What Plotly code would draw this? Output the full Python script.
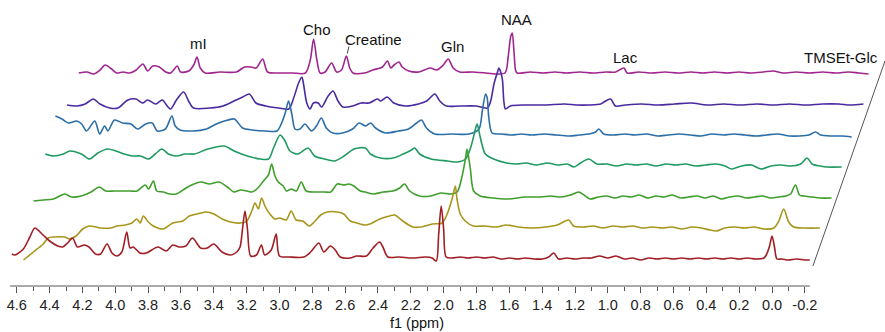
import plotly.graph_objects as go

# ---------------------------------------------------------------------------
# Stacked 1H NMR spectra (front to back).  Each spectrum: chemical shift (ppm)
# and intensity (arbitrary units) at points.
# ---------------------------------------------------------------------------
s1_ppm = [4.63, 4.61, 4.56, 4.52, 4.49, 4.44, 4.40, 4.35, 4.32, 4.29, 4.26, 4.23, 4.19, 4.16,
          4.12, 4.09, 4.05, 4.02, 3.99, 3.96, 3.93, 3.91, 3.89, 3.85, 3.81, 3.74, 3.69, 3.65,
          3.61, 3.57, 3.53, 3.48, 3.44, 3.40, 3.35, 3.30, 3.26, 3.24, 3.225, 3.21, 3.195, 3.175,
          3.14, 3.11, 3.09, 3.05, 3.02, 3.00, 2.94, 2.85, 2.81, 2.76, 2.73, 2.69, 2.66, 2.63,
          2.57, 2.53, 2.47, 2.43, 2.39, 2.37, 2.34, 2.27, 2.19, 2.11, 2.07, 2.045, 2.03, 2.015,
          2.00, 1.985, 1.95, 1.90, 1.85, 1.80, 1.75, 1.70, 1.65, 1.60, 1.55, 1.50, 1.45, 1.40,
          1.36, 1.33, 1.30, 1.25, 1.20, 1.15, 1.10, 1.05, 1.00, 0.95, 0.90, 0.85, 0.80, 0.75,
          0.70, 0.65, 0.60, 0.55, 0.50, 0.45, 0.40, 0.35, 0.30, 0.25, 0.20, 0.15, 0.10, 0.05,
          0.035, 0.015, 0.00, -0.015, -0.03, -0.06, -0.10, -0.15, -0.20, -0.23]
s1_int = [5, 4, 10, 22, 31, 24, 18, 13, 12, 16, 21, 12, 14, 12,
          5, 5, 15, 6, 3, 7, 27, 11, 12, 6, 6, 12, 8, 14,
          12, 13, 21, 11, 11, 15, 7, 4, 7, 12, 30, 48, 30, 3,
          4, 14, 4, 9, 25, 3, 2, 2, 7, 16, 7, 13, 9, 2,
          1, 3, 3, 11, 17, 12, 2, 2, 1, 2, 1, -2, 25, 53,
          30, 2, 1, 2, 1, 2, 1, 2, 0, 1, 0, 1, 0, 0,
          2, 6, 0, 1, 0, 1, 1, 3, 1, 3, 0, 1, -1, 1,
          0, 1, 0, 1, 0, 1, 0, 1, 0, 1, 0, 1, 0, 1,
          4, 13, 23, 12, 0, 0, -1, 0, -1, -1]

s2_ppm = [4.63, 4.57, 4.51, 4.48, 4.44, 4.38, 4.35, 4.31, 4.27, 4.23, 4.16, 4.10, 4.06, 4.01,
          3.97, 3.94, 3.92, 3.90, 3.87, 3.84, 3.78, 3.72, 3.66, 3.62, 3.55, 3.52, 3.47, 3.42,
          3.37, 3.31, 3.27, 3.24, 3.22, 3.20, 3.18, 3.16, 3.13, 3.10, 3.07, 3.03, 3.00, 2.97,
          2.93, 2.89, 2.86, 2.82, 2.78, 2.72, 2.68, 2.64, 2.60, 2.55, 2.52, 2.46, 2.40, 2.37,
          2.32, 2.26, 2.21, 2.14, 2.08, 2.05, 2.02, 2.00, 1.99, 1.97, 1.94, 1.89, 1.82, 1.75,
          1.69, 1.62, 1.53, 1.45, 1.38, 1.31, 1.28, 1.22, 1.16, 1.10, 1.04, 0.98, 0.92, 0.86,
          0.80, 0.74, 0.68, 0.62, 0.56, 0.50, 0.45, 0.41, 0.36, 0.30, 0.24, 0.18, 0.12, 0.06,
          0.03, 0.00, -0.03, -0.06, -0.13, -0.22]
s2_int = [-32, -24, -16, -10, -9, -9, -11, -8, -1, 2, 0, 0, 2, 3,
          5, 9, 5, 12, 6, 2, -1, 5, 7, 12, 15, 16, 14, 9,
          6, 5, 7, 17, 25, 19, 30, 22, 14, 9, 10, 8, 17, 8,
          7, 2, 6, 13, 16, 16, 14, 7, 5, 3, 4, 9, 12, 13,
          7, 1, 1, 4, 5, 14, 29, 42, 29, 14, 7, 2, 2, 1,
          3, 1, 0, 1, 3, 8, 2, 1, 2, 0, 2, 1, 2, 0,
          1, 0, 1, -1, 1, 0, -2, -3, 0, 1, 0, 1, -1, 0,
          7, 19, 6, 1, 0, 0]

s3_ppm = [4.64, 4.58, 4.52, 4.45, 4.41, 4.35, 4.29, 4.24, 4.20, 4.15, 4.11, 4.05, 4.01, 3.96,
          3.94, 3.91, 3.89, 3.85, 3.81, 3.77, 3.72, 3.69, 3.62, 3.57, 3.51, 3.46, 3.42, 3.38,
          3.34, 3.31, 3.28, 3.24, 3.21, 3.19, 3.17, 3.15, 3.12, 3.10, 3.07, 3.04, 3.01, 2.98,
          2.93, 2.87, 2.83, 2.79, 2.75, 2.72, 2.69, 2.65, 2.62, 2.57, 2.51, 2.45, 2.41, 2.38,
          2.35, 2.29, 2.22, 2.16, 2.10, 2.06, 2.03, 2.01, 2.00, 1.98, 1.96, 1.92, 1.84, 1.76,
          1.64, 1.55, 1.49, 1.43, 1.37, 1.32, 1.28, 1.25, 1.20, 1.15, 1.10, 1.05, 1.00, 0.95,
          0.90, 0.85, 0.80, 0.75, 0.70, 0.65, 0.60, 0.55, 0.50, 0.45, 0.40, 0.35, 0.30, 0.25,
          0.20, 0.15, 0.10, 0.06, 0.03, 0.00, -0.025, -0.05, -0.10, -0.15, -0.22]
s3_int = [-4, -3, -2, 3, 0, 1, 5, 10, 6, 6, 6, 6, 6, 12,
          8, 16, 6, 5, 3, 3, 8, 11, 15, 13, 15, 10, 5, 7,
          6, 5, 8, 16, 22, 33, 21, 15, 11, 6, 8, 6, 15, 6,
          5, 5, 5, 13, 12, 13, 11, 6, 5, 3, 5, 6, 9, 13,
          6, 1, 1, 4, 3, 5, 21, 38, 48, 28, 6, 1, -1, -2,
          0, 0, 1, 0, 2, 5, 1, -2, 0, 1, -1, 1, 0, 2,
          -1, 1, 0, 2, -1, 0, 1, -1, 1, -2, 0, 1, -1, 0,
          1, -1, 0, 1, 3, 12, 2, 1, 0, -1, -1]

s4_ppm = [4.64, 4.59, 4.53, 4.49, 4.42, 4.37, 4.32, 4.26, 4.21, 4.16, 4.11, 4.06, 4.01, 3.97,
          3.93, 3.89, 3.84, 3.79, 3.73, 3.65, 3.55, 3.49, 3.41, 3.33, 3.28, 3.25, 3.21, 3.18,
          3.15, 3.10, 3.04, 3.00, 2.94, 2.88, 2.82, 2.76, 2.69, 2.66, 2.60, 2.52, 2.46, 2.41,
          2.39, 2.36, 2.29, 2.19, 2.13, 2.08, 2.05, 2.02, 2.01, 1.99, 1.96, 1.91, 1.83, 1.77,
          1.71, 1.65, 1.58, 1.52, 1.46, 1.42, 1.38, 1.33, 1.28, 1.22, 1.16, 1.10, 1.04, 0.98,
          0.92, 0.86, 0.80, 0.74, 0.68, 0.62, 0.56, 0.50, 0.46, 0.40, 0.34, 0.28, 0.22, 0.16,
          0.10, 0.04, 0.00, -0.03, -0.08, -0.12, -0.21]
s4_int = [12, 10, 12, 15, 12, 7, 13, 17, 15, 12, 10, 10, 7, 12,
          17, 12, 10, 12, 12, 17, 20, 15, 10, 7, 7, 18, 31, 25,
          15, 12, 18, 10, 7, 5, 10, 17, 18, 12, 8, 8, 12, 16,
          18, 12, 7, 5, 4, 7, 18, 37, 42, 28, 12, 7, 3, 2,
          3, 1, 3, 1, 2, -1, 3, 7, 2, 2, 0, 2, 1, 2,
          0, 2, 1, 2, 0, 1, 2, 0, -3, 0, 1, -3, 0, 1,
          0, 2, 8, 2, 0, -1, -1]

s5_ppm = [4.65, 4.61, 4.57, 4.52, 4.49, 4.46, 4.41, 4.38, 4.35, 4.33, 4.29, 4.24, 4.19, 4.15,
          4.10, 4.06, 4.03, 3.98, 3.94, 3.92, 3.89, 3.81, 3.73, 3.67, 3.62, 3.56, 3.51, 3.45,
          3.37, 3.30, 3.28, 3.25, 3.23, 3.21, 3.19, 3.16, 3.13, 3.09, 3.06, 3.03, 3.00, 2.96,
          2.90, 2.84, 2.80, 2.76, 2.73, 2.70, 2.64, 2.56, 2.50, 2.45, 2.42, 2.39, 2.34, 2.23,
          2.13, 2.07, 2.05, 2.03, 2.02, 2.01, 1.99, 1.93, 1.87, 1.81, 1.75, 1.67, 1.60, 1.52,
          1.46, 1.40, 1.36, 1.34, 1.31, 1.25, 1.18, 1.12, 1.05, 0.98, 0.92, 0.85, 0.78, 0.72,
          0.65, 0.58, 0.52, 0.45, 0.38, 0.32, 0.25, 0.18, 0.12, 0.06, 0.02, -0.01, -0.08, -0.14,
          -0.20]
s5_int = [19, 16, 12, 14, 11, 4, 14, 1, 9, 4, 15, 12, 11, 6,
          11, 12, 4, 6, 19, 9, 5, 4, 6, 11, 14, 16, 7, 5,
          4, 4, 9, 22, 34, 21, 6, 6, 11, 4, 9, 17, 7, 2,
          2, 6, 12, 9, 12, 7, 2, 4, 6, 12, 15, 7, 1, 1,
          1, 6, 24, 41, 37, 17, 2, 1, 0, 1, 0, 1, 0, -1,
          0, 1, 3, 6, 1, 0, 1, 0, 1, -1, 0, 1, 0, -1,
          1, 0, 1, 0, -1, 0, 1, -1, -1, 0, 3, 0, -1, -1,
          -2]

s6_ppm = [4.65, 4.59, 4.54, 4.49, 4.45, 4.39, 4.34, 4.28, 4.23, 4.19, 4.16, 4.11, 4.07, 4.04,
          4.02, 3.98, 3.94, 3.91, 3.88, 3.78, 3.70, 3.62, 3.58, 3.54, 3.50, 3.44, 3.36, 3.30,
          3.27, 3.24, 3.22, 3.21, 3.19, 3.17, 3.15, 3.12, 3.10, 3.06, 3.03, 3.00, 2.97, 2.91,
          2.86, 2.81, 2.76, 2.74, 2.70, 2.66, 2.59, 2.51, 2.46, 2.41, 2.38, 2.34, 2.26, 2.16,
          2.09, 2.07, 2.05, 2.03, 2.02, 2.00, 1.99, 1.98, 1.95, 1.86, 1.74, 1.62, 1.55, 1.47,
          1.40, 1.38, 1.34, 1.31, 1.25, 1.15, 1.05, 0.95, 0.85, 0.75, 0.65, 0.55, 0.45, 0.35,
          0.25, 0.15, 0.05, -0.05, -0.12, -0.20]
s6_int = [-1, -2, 0, 5, 0, -4, -4, 4, 5, 1, 4, 0, 4, -2,
          -5, 5, 12, 3, -4, -4, -2, 4, 7, 10, 1, -2, -4, -5,
          6, 21, 27, 20, 1, -5, 1, 1, -3, 8, 13, 3, -3, -2,
          1, 1, 5, 3, 7, 1, -2, 0, 3, 10, 3, -2, -2, -2,
          -4, 3, 20, 31, 36, 26, 3, -5, -2, -1, -1, 0, -1, -1,
          0, 2, 5, -2, -1, 0, -1, 0, 1, -1, 0, -1, 0, -1,
          0, -1, 0, 0, -1, 0]

s7_ppm = [4.65, 4.60, 4.56, 4.52, 4.49, 4.45, 4.42, 4.38, 4.34, 4.30, 4.26, 4.23, 4.20, 4.16,
          4.12, 4.09, 4.05, 4.03, 3.98, 3.95, 3.93, 3.91, 3.88, 3.79, 3.69, 3.64, 3.60, 3.57,
          3.53, 3.50, 3.43, 3.35, 3.27, 3.24, 3.22, 3.20, 3.18, 3.15, 3.11, 3.08, 3.05, 3.02,
          3.00, 2.98, 2.91, 2.86, 2.80, 2.77, 2.75, 2.73, 2.70, 2.68, 2.64, 2.58, 2.51, 2.47,
          2.43, 2.40, 2.37, 2.33, 2.25, 2.17, 2.055, 2.035, 2.02, 2.01, 2.00, 1.99, 1.98, 1.90,
          1.82, 1.75, 1.68, 1.60, 1.52, 1.44, 1.38, 1.33, 1.31, 1.24, 1.16, 1.08, 1.00, 0.92,
          0.85, 0.78, 0.70, 0.63, 0.56, 0.48, 0.42, 0.36, 0.28, 0.20, 0.12, 0.04, -0.04, -0.10,
          -0.16]
s7_int = [0, 1, -1, 3, 8, 4, 0, 1, 0, 3, 9, 2, 7, 6,
          1, 0, 7, 1, 2, 8, 16, 5, 0, 1, 1, 6, 6, 5,
          14, 1, 0, 0, 0, 13, 34, 13, 0, 1, 10, 1, 3, 17,
          5, 0, 0, 3, 6, 12, 5, 8, 11, 6, 2, 1, 5, 3,
          8, 14, 5, 1, 1, 0, 0, 16, 36, 40, 23, 3, 0, 1,
          0, 1, 0, 1, 0, 1, 1, 5, 0, 1, 0, 1, 0, 1,
          0, 1, 0, 1, 0, 1, 2, 0, 1, 0, 1, 0, 1, 0,
          -1]

colors = ["#a01e24", "#a8951c", "#3f9e2c", "#1f9a62", "#2b6ea8", "#4a2aa0", "#a0268f"]
spectra = [(s1_ppm, s1_int), (s2_ppm, s2_int), (s3_ppm, s3_int), (s4_ppm, s4_int),
           (s5_ppm, s5_int), (s6_ppm, s6_int), (s7_ppm, s7_int)]

# Metabolite labels: (text, ppm position in view, height in view)
labels = [("mI", 3.496, 243), ("Cho", 2.771, 257), ("Creatine", 2.430, 247),
          ("Gln", 1.949, 240), ("NAA", 1.559, 267), ("Lac", 0.890, 229),
          ("TMSEt-Glc", -0.420, 229)]

tick_vals = [4.6, 4.4, 4.2, 4.0, 3.8, 3.6, 3.4, 3.2, 3.0, 2.8, 2.6, 2.4, 2.2, 2.0,
             1.8, 1.6, 1.4, 1.2, 1.0, 0.8, 0.6, 0.4, 0.2, 0.0, -0.2]
tick_text = ["4.6", "4.4", "4.2", "4.0", "3.8", "3.6", "3.4", "3.2", "3.0", "2.8", "2.6",
             "2.4", "2.2", "2.0", "1.8", "1.6", "1.4", "1.2", "1.0", "0.8", "0.6", "0.4",
             "0.2", "0.0", "-0.2"]
minor_vals = [4.5, 4.3, 4.1, 3.9, 3.7, 3.5, 3.3, 3.1, 2.9, 2.7, 2.5, 2.3, 2.1, 1.9,
              1.7, 1.5, 1.3, 1.1, 0.9, 0.7, 0.5, 0.3, 0.1, -0.1]

# ---------------------------------------------------------------------------
# Oblique (pseudo-3D) stacking parameters
# ---------------------------------------------------------------------------
DEPTH_SHIFT = 0.0713   # ppm shift to the right per spectrum
DEPTH_RISE = 31        # vertical step per spectrum
BASE = 27              # baseline height of the front spectrum
X_RANGE = [4.702, -0.688]
Y_RANGE = [0, 286]
FONT = "Arial, Liberation Sans, sans-serif"


def xpaper(ppm):
    return (X_RANGE[0] - ppm) / (X_RANGE[0] - X_RANGE[1])


fig = go.Figure()

# draw from back to front so the front spectrum sits on top
for k in reversed(range(len(spectra))):
    ppm, inten = spectra[k]
    fig.add_trace(go.Scatter(
        x=[p - k * DEPTH_SHIFT for p in ppm],
        y=[v + BASE + k * DEPTH_RISE for v in inten],
        mode="lines",
        line=dict(color=colors[k], width=1.6, shape="spline", smoothing=0.8),
        hoverinfo="skip",
        showlegend=False,
    ))

for text, x, y in labels:
    fig.add_annotation(x=x, y=y, xref="x", yref="y", text=text, showarrow=False,
                       font=dict(family=FONT, size=15, color="#111111"),
                       xanchor="center", yanchor="middle")

fig.add_annotation(x=417 / 885, y=-0.13, xref="paper", yref="paper", text="f1 (ppm)",
                   showarrow=False, font=dict(family=FONT, size=14.5, color="#111111"),
                   xanchor="center", yanchor="middle")

shapes = [
    # ppm axis line
    dict(type="line", xref="paper", yref="paper", x0=xpaper(4.64), x1=xpaper(-0.23),
         y0=0, y1=0, line=dict(color="#555555", width=1)),
    # oblique depth edge on the right
    dict(type="line", xref="x", yref="y", x0=-0.249, y0=20, x1=-0.688, y1=225,
         line=dict(color="#555555", width=1)),
    # leader for the Creatine label
    dict(type="line", xref="x", yref="y", x0=2.577, y0=239.5, x1=2.587, y1=232.5,
         line=dict(color="#444444", width=1)),
]

fig.update_layout(
    width=885, height=332,
    margin=dict(l=0, r=0, t=0, b=46),
    paper_bgcolor="white", plot_bgcolor="white",
    shapes=shapes,
    xaxis=dict(range=X_RANGE, showgrid=False, zeroline=False, showline=False,
               tickmode="array", tickvals=tick_vals, ticktext=tick_text,
               ticks="outside", ticklen=6, tickwidth=1, tickcolor="#555555",
               tickfont=dict(family=FONT, size=14.5, color="#222222"),
               minor=dict(tickmode="array", tickvals=minor_vals, ticks="outside",
                          ticklen=3.5, tickwidth=1, tickcolor="#555555")),
    yaxis=dict(range=Y_RANGE, visible=False, showgrid=False, zeroline=False),
)

fig.write_html("out.html")
